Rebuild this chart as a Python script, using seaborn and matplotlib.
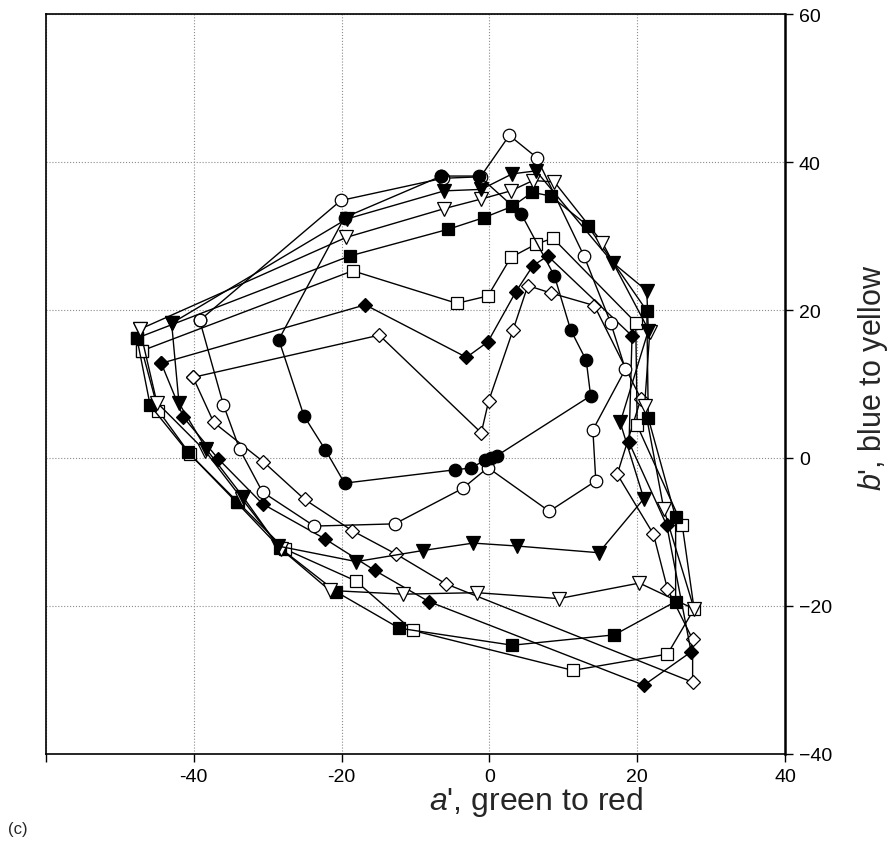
import matplotlib
matplotlib.use("Agg")
import matplotlib.pyplot as plt
import pandas as pd
import seaborn as sns

# gamut outlines, a' (green-red) and b' (blue-yellow), one closed loop per marker type
filled_circle_a = [-6.5, -1.4, 4.3, 8.8, 11.0, 13.1, 13.7, 1.0, 0.2, -0.6, -2.5, -4.7,
                   -19.6, -22.2, -25.1, -28.5, -19.6]
filled_circle_b = [38.1, 38.1, 33.0, 24.6, 17.3, 13.2, 8.4, 0.3, 0.0, -0.3, -1.35, -1.6,
                   -3.4, 1.1, 5.7, 16.0, 32.5]

open_circle_a = [-39.2, -20.1, -6.3, -1.2, 2.7, 6.4, 12.8, 16.4, 18.4, 14.0, 14.4, 8.1,
                 -0.2, -3.6, -12.8, -23.7, -30.7, -33.8, -36.0]
open_circle_b = [18.6, 34.8, 37.8, 38.0, 43.6, 40.6, 27.3, 18.3, 12.0, 3.8, -3.1, -7.2,
                 -1.3, -4.1, -8.9, -9.2, -4.6, 1.2, 7.2]

filled_tri_a = [-43.0, -19.3, -6.1, -1.1, 3.1, 6.3, 16.7, 21.3, 21.5, 17.7, 20.9, 14.8,
                3.8, -2.2, -9.0, -18.0, -28.6, -33.3, -38.3, -42.0]
filled_tri_b = [18.2, 32.3, 36.1, 36.3, 38.4, 38.8, 26.4, 22.6, 17.2, 4.8, -5.5, -12.8,
                -11.9, -11.5, -12.5, -14.0, -11.9, -5.3, 1.2, 7.4]

open_tri_a = [-47.3, -19.4, -6.1, -1.1, 2.9, 5.9, 8.8, 15.3, 21.7, 21.0, 23.6, 27.7,
              20.3, 9.4, -1.7, -11.7, -21.6, -28.2, -33.5, -38.5, -45.0]
open_tri_b = [17.4, 29.8, 33.7, 35.0, 36.1, 37.5, 37.3, 29.1, 17.0, 7.0, -6.9, -20.4,
              -16.9, -19.0, -18.2, -18.4, -17.9, -12.3, -5.5, 1.0, 7.5]

filled_square_a = [-47.7, -18.9, -5.6, -0.7, 3.1, 5.8, 8.3, 13.3, 21.3, 21.5, 25.2, 25.2,
                   16.9, 3.1, -12.2, -20.7, -28.4, -34.2, -40.8, -45.9]
filled_square_b = [16.2, 27.3, 30.9, 32.5, 34.0, 35.9, 35.4, 31.4, 19.9, 5.4, -8.0, -19.4,
                   -23.9, -25.3, -23.0, -18.1, -12.1, -6.0, 0.8, 7.1]

open_square_a = [-47.0, -18.5, -4.4, -0.2, 2.9, 6.3, 8.6, 19.8, 20.0, 26.1, 27.7, 24.1,
                 11.3, -10.4, -18.1, -27.7, -34.0, -40.5, -44.8]
open_square_b = [14.5, 25.3, 20.9, 21.9, 27.1, 28.9, 29.7, 18.3, 4.4, -9.1, -20.4, -26.5,
                 -28.7, -23.3, -16.6, -12.3, -6.0, 0.5, 6.4]

filled_diamond_a = [-44.4, -16.8, -3.1, -0.2, 3.6, 5.9, 7.9, 19.3, 18.9, 24.0, 27.3, 20.9,
                    -8.2, -15.5, -22.3, -30.7, -36.7, -41.4]
filled_diamond_b = [12.8, 20.7, 13.6, 15.7, 22.5, 26.0, 27.3, 16.5, 2.1, -9.1, -26.2, -30.7,
                    -19.4, -15.2, -10.9, -6.2, -0.1, 5.5]

open_diamond_a = [-40.1, -14.9, -1.1, -0.1, 3.2, 5.2, 8.3, 14.2, 20.5, 17.3, 22.2, 24.1,
                  27.5, 27.5, -5.9, -12.6, -18.6, -25.0, -30.6, -37.3]
open_diamond_b = [10.9, 16.6, 3.4, 7.7, 17.3, 23.3, 22.3, 20.6, 8.0, -2.2, -10.3, -17.7,
                  -24.5, -30.3, -17.0, -13.0, -9.8, -5.6, -0.5, 4.8]

x_ticks = [-60, -40, -20, 0, 20, 40]
x_tick_labels = ["", "-40", "-20", "0", "20", "40"]
y_ticks = [-40, -20, 0, 20, 40, 60]


def closed(a, b):
    """Return the loop as a frame with the first point repeated at the end."""
    return pd.DataFrame({"a": a + a[:1], "b": b + b[:1]})


sns.set_style("ticks")
plt.rcParams["font.family"] = ["Liberation Sans", "DejaVu Sans"]
plt.rcParams["mathtext.fontset"] = "custom"
plt.rcParams["mathtext.it"] = "Liberation Sans:italic"
plt.rcParams["mathtext.rm"] = "Liberation Sans"

fig = plt.figure(figsize=(8.89, 8.54), dpi=100)
ax = fig.add_axes([46 / 889, 1 - 755 / 854, 739 / 889, 740 / 854])

# (data, marker, filled, size)
series = [
    (closed(open_diamond_a, open_diamond_b), "D", False, 7.5),
    (closed(filled_diamond_a, filled_diamond_b), "D", True, 7.5),
    (closed(open_square_a, open_square_b), "s", False, 8.5),
    (closed(filled_square_a, filled_square_b), "s", True, 8.5),
    (closed(open_tri_a, open_tri_b), "v", False, 9.5),
    (closed(filled_tri_a, filled_tri_b), "v", True, 9.5),
    (closed(open_circle_a, open_circle_b), "o", False, 9.0),
    (closed(filled_circle_a, filled_circle_b), "o", True, 9.0),
]

for df, marker, filled, size in series:
    sns.lineplot(
        data=df,
        x="a",
        y="b",
        sort=False,
        estimator=None,
        color="black",
        linewidth=1.0,
        marker=marker,
        markersize=size,
        markerfacecolor="black" if filled else "white",
        markeredgecolor="black",
        markeredgewidth=0.9,
        ax=ax,
    )

ax.set_xlim(-60, 40)
ax.set_ylim(-40, 60)
ax.set_xticks(x_ticks)
ax.set_xticklabels(x_tick_labels)
ax.set_yticks(y_ticks)
ax.yaxis.tick_right()
ax.grid(True, linestyle=":", color="0.55", linewidth=0.8)
for spine in ax.spines.values():
    spine.set_visible(True)
    spine.set_color("black")
    spine.set_linewidth(1.2)
ax.spines["right"].set_linewidth(1.8)
ax.tick_params(axis="both", direction="out", length=6, width=1.0, labelsize=14,
               colors="black", pad=4)

ax.set_xlabel("$a$', green to red", fontsize=23)
ax.xaxis.set_label_coords(0.663, -0.04)
ax.set_ylabel("$b$', blue to yellow", fontsize=22)
ax.yaxis.set_label_position("right")
ax.yaxis.set_label_coords(1.096, 0.51)

fig.text(8 / 889, 1 - 830 / 854, "(c)", fontsize=12, va="center", ha="left")

fig.savefig("out.png", dpi=100)
